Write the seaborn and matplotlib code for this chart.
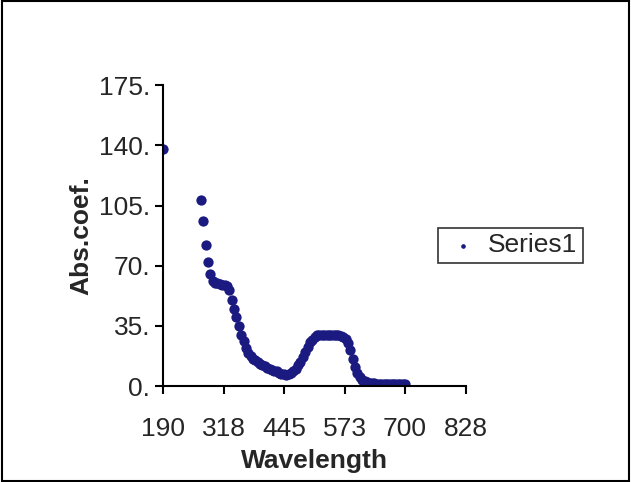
import numpy as np
import pandas as pd
import matplotlib
matplotlib.use('Agg')
import matplotlib.pyplot as plt
import seaborn as sns
from matplotlib.patches import Rectangle

sns.set_style('white')
plt.rcParams['font.family'] = ['Liberation Sans', 'DejaVu Sans']

wavelength = [190] + list(range(270, 705, 5))
abs_coef = [138,
            108, 96, 82, 72, 65, 61, 60, 60, 59.5, 59, 59, 58, 56, 50, 45, 40, 35, 30, 26, 22,
            19.5, 17.5, 16, 15, 14, 13, 12, 11.5, 10.8, 10, 9.5, 9, 8.5, 7.8, 7.2, 6.8, 6.5,
            6.8, 7.5, 8.5, 10, 12, 14, 17, 20, 23, 25.5, 27, 28.5, 29.5, 30, 30, 30, 30, 30,
            30, 30, 30, 29.5, 29, 28.5, 27.5, 25, 21, 16, 11, 7.5, 5, 3.8, 3, 2.5, 2, 1.7,
            1.6, 1.5, 1.5, 1.4, 1.4, 1.3, 1.3, 1.2, 1.2, 1.2, 1.1, 1.1, 1.0, 1.0]
df = pd.DataFrame({'Wavelength': wavelength, 'Abs.coef.': abs_coef})

xticks = [190, 318, 445, 573, 700, 828]
yticks = [0, 35, 70, 105, 140, 175]

fig = plt.figure(figsize=(6.31, 4.82), dpi=100)
ax = fig.add_axes([0.258, 0.199, 0.48, 0.624])
sns.scatterplot(data=df, x='Wavelength', y='Abs.coef.', ax=ax, marker='o', s=55,
                color='#1a1a80', edgecolor='#1a1a80', linewidth=0, legend=False)
ax.set_xlim(190, 828)
ax.set_ylim(0, 175)
ax.set_xticks(xticks)
ax.set_xticklabels([str(t) for t in xticks], fontsize=19)
ax.set_yticks(yticks)
ax.set_yticklabels([f'{t}.' for t in yticks], fontsize=19)
ax.tick_params(direction='out', length=6, width=1.5, color='black', left=True, bottom=True)
ax.tick_params(axis='x', pad=16)
ax.tick_params(axis='y', pad=3)
for s in ['top', 'right']:
    ax.spines[s].set_visible(False)
for s in ['left', 'bottom']:
    ax.spines[s].set_color('black')
    ax.spines[s].set_linewidth(1.5)
ax.set_xlabel('Wavelength', fontsize=19, fontweight='bold', labelpad=6)
ax.set_ylabel('Abs.coef.', fontsize=19, fontweight='bold', labelpad=4)

h = ax.collections[0]
fig.legend([h], ['Series1'], loc='upper left', bbox_to_anchor=(425/631, 1 - 215/482),
           fontsize=19, frameon=True, fancybox=False, edgecolor='black', borderpad=0.2,
           handletextpad=0.2, handlelength=1.5, markerscale=0.45).get_frame().set_linewidth(1.2)
fig.patches.append(Rectangle((0.003, 0.003), 0.994, 0.994, transform=fig.transFigure,
                             fill=False, edgecolor='black', linewidth=1.5))
fig.savefig('out.png', dpi=100)
